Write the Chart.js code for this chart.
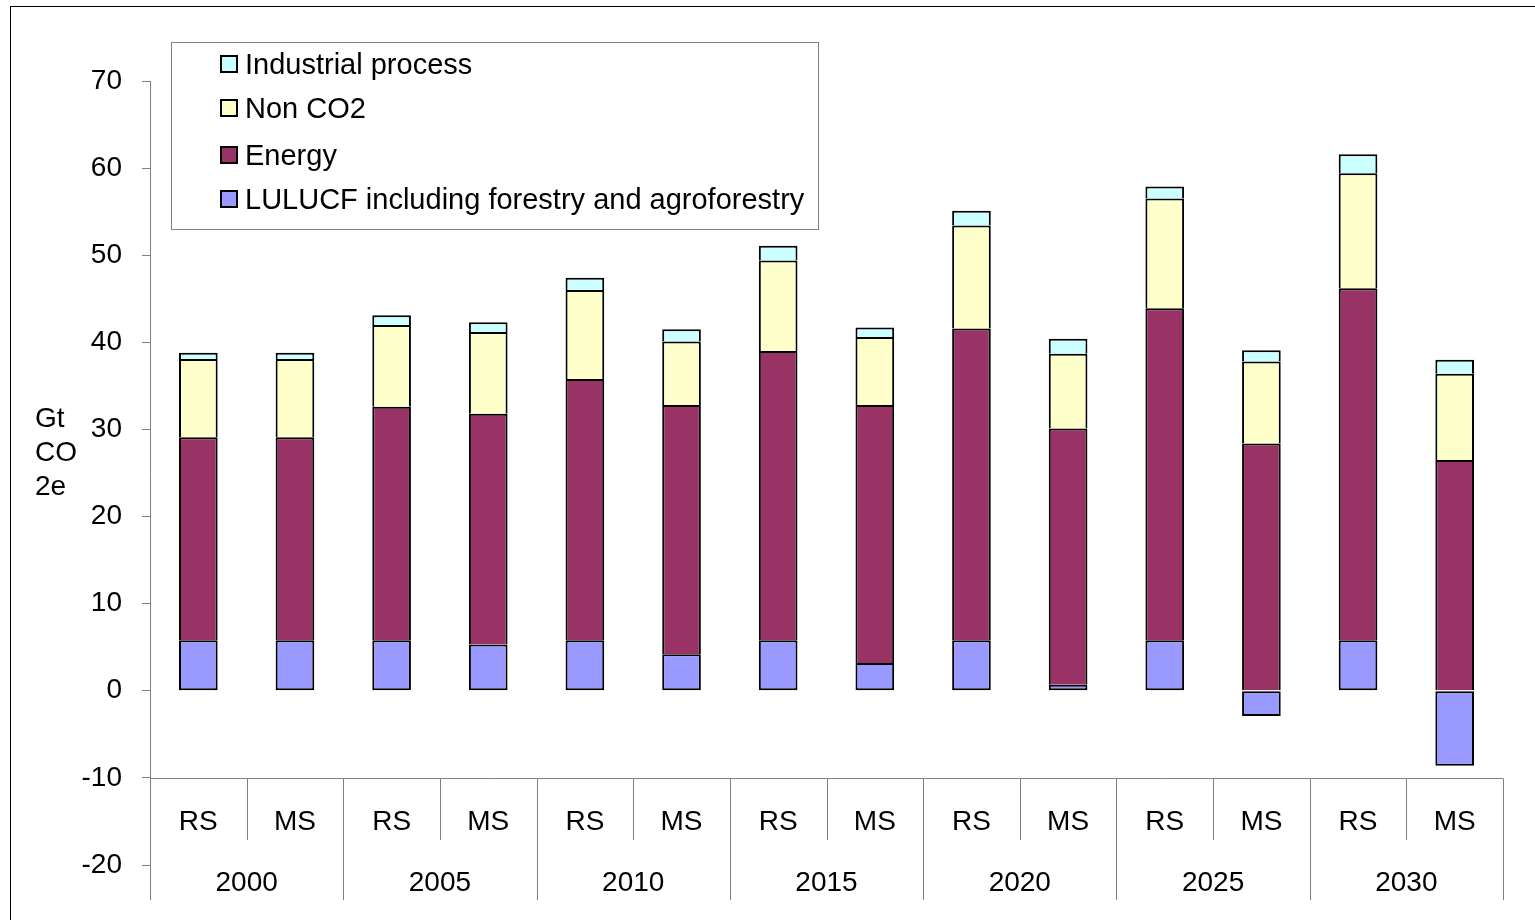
<!DOCTYPE html>
<html>
<head>
<meta charset="utf-8">
<script src="https://cdn.jsdelivr.net/npm/chart.js@4/dist/chart.umd.min.js"></script>
<style>
  html, body { margin: 0; padding: 0; background: #fff; }
  #wrap { width: 1535px; height: 920px; }
</style>
</head>
<body>
<div id="wrap"><canvas id="emissions" width="1535" height="920"></canvas></div>
<script>
const years = ['2000', '2005', '2010', '2015', '2020', '2025', '2030'];
const scenarios = ['RS', 'MS'];

// Gt CO2e per scenario, in order RS 2000, MS 2000, RS 2005, MS 2005, ...
const lulucf     = [5.8, 5.8, 5.8, 5.3, 5.8, 4.2, 5.8, 3.2, 5.8, 0.7, 5.8, -2.9, 5.8, -8.6];
const energy     = [23.3, 23.3, 26.8, 26.5, 30.0, 28.6, 33.2, 29.6, 35.8, 29.4, 38.1, 28.4, 40.4, 26.5];
const nonCo2     = [9.0, 9.0, 9.4, 9.4, 10.2, 7.3, 10.4, 7.8, 11.8, 8.6, 12.6, 9.4, 13.2, 9.9];
const industrial = [0.7, 0.7, 1.1, 1.1, 1.4, 1.4, 1.7, 1.1, 1.7, 1.7, 1.4, 1.3, 2.2, 1.6];

const yTicks = [-20, -10, 0, 10, 20, 30, 40, 50, 60, 70];
const yTitle = ['Gt', 'CO', '2e'];

const labels = [];
years.forEach(y => scenarios.forEach(s => labels.push(s + ' ' + y)));

const FAMILY = '"Liberation Sans", Arial, sans-serif';
const AXIS_FONT = '28px ' + FAMILY;
const LEGEND_FONT = '29px ' + FAMILY;

// draws the frame, axis title, legend box and the two-row category table
const decorations = {
  id: 'decorations',
  beforeDraw(chart) {
    const c = chart.ctx;
    c.save();
    c.fillStyle = '#fff';
    c.fillRect(0, 0, chart.width, chart.height);
    c.restore();
  },
  afterDraw(chart) {
    const c = chart.ctx;
    const xs = chart.scales.x;
    const ys = chart.scales.y;
    const area = chart.chartArea;
    c.save();

    // outer frame
    c.strokeStyle = '#000';
    c.lineWidth = 1;
    c.strokeRect(10.5, 6.5, 1600, 1000);

    // axis title
    c.fillStyle = '#000';
    c.font = AXIS_FONT;
    c.textAlign = 'left';
    c.textBaseline = 'middle';
    yTitle.forEach((t, i) => c.fillText(t, 35, 419 + i * 34));

    // category table hanging from the -10 line
    const base = Math.round(ys.getPixelForValue(-10)) + 0.5;
    c.strokeStyle = '#808080';
    c.beginPath();
    c.moveTo(area.left, base);
    c.lineTo(area.right, base);
    for (let i = 0; i <= labels.length; i++) {
      let x;
      if (i === 0) x = area.left;
      else if (i === labels.length) x = area.right;
      else x = (xs.getPixelForValue(i - 1) + xs.getPixelForValue(i)) / 2;
      x = Math.round(x) + 0.5;
      c.moveTo(x, base);
      c.lineTo(x, i % 2 === 0 ? 900 : 840);
    }
    c.stroke();

    c.textAlign = 'center';
    labels.forEach((l, i) => {
      c.fillText(scenarios[i % 2], xs.getPixelForValue(i), 822);
    });
    years.forEach((y, j) => {
      const x = (xs.getPixelForValue(j * 2) + xs.getPixelForValue(j * 2 + 1)) / 2;
      c.fillText(y, x, 883);
    });

    // legend, top series first
    c.strokeStyle = '#808080';
    c.strokeRect(171.5, 42.5, 647, 187);
    const rows = [64, 108, 155, 199];
    const order = [3, 2, 1, 0];
    c.font = LEGEND_FONT;
    c.textAlign = 'left';
    order.forEach((di, r) => {
      const ds = chart.data.datasets[di];
      const y = rows[r];
      c.fillStyle = ds.backgroundColor;
      c.fillRect(221, y - 8, 16, 16);
      c.strokeStyle = '#000';
      c.lineWidth = 2;
      c.strokeRect(221, y - 8, 16, 16);
      c.fillStyle = '#000';
      c.fillText(ds.label, 245, y + 2);
    });
    c.restore();
  }
};

new Chart(document.getElementById('emissions'), {
  type: 'bar',
  data: {
    labels: labels,
    datasets: [
      { label: 'LULUCF including forestry and agroforestry', data: lulucf, backgroundColor: '#9999FF', borderSkipped: false },
      { label: 'Energy', data: energy, backgroundColor: '#993366' },
      { label: 'Non CO2', data: nonCo2, backgroundColor: '#FFFFCC' },
      { label: 'Industrial process', data: industrial, backgroundColor: '#CCFFFF' }
    ]
  },
  options: {
    responsive: false,
    animation: false,
    datasets: {
      bar: { borderColor: '#000', borderWidth: 2, barPercentage: 0.4, categoryPercentage: 1 }
    },
    layout: { padding: { left: 0, top: 81, right: 32, bottom: 55 } },
    plugins: {
      legend: { display: false },
      tooltip: { enabled: false }
    },
    scales: {
      x: { stacked: true, display: false, offset: true },
      y: {
        stacked: true,
        min: -20,
        max: 70,
        afterBuildTicks(scale) { scale.ticks = yTicks.map(v => ({ value: v })); },
        afterFit(scale) { scale.width = 150; },
        ticks: { color: '#000', padding: 20, font: { family: FAMILY, size: 28 } },
        grid: { drawOnChartArea: false, drawTicks: true, tickLength: 8, color: '#808080' },
        border: { color: '#808080', width: 1 }
      }
    }
  },
  plugins: [decorations]
});
</script>
</body>
</html>
